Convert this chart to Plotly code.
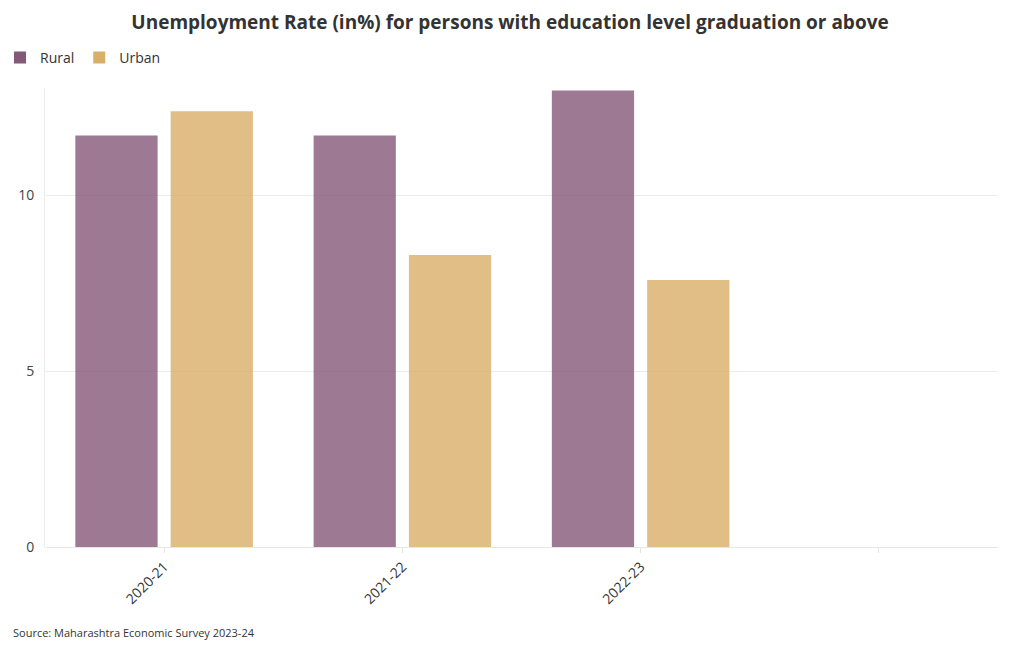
import plotly.graph_objects as go

categories = ["2020-21", "2021-22", "2022-23", " "]
rural = [11.7, 11.7, 12.98, None]
urban = [12.39, 8.3, 7.59, None]
tick_labels = ["2020-21", "2021-22", "2022-23", ""]

FONT = "Open Sans"

fig = go.Figure()
fig.add_trace(go.Bar(name="Rural", x=categories, y=rural,
                     marker=dict(color="#845878", opacity=0.8, line=dict(width=0))))
fig.add_trace(go.Bar(name="Urban", x=categories, y=urban,
                     marker=dict(color="#d8ae68", opacity=0.8, line=dict(width=0))))

fig.update_layout(
    width=1020, height=650,
    paper_bgcolor="white", plot_bgcolor="white",
    margin=dict(l=45, r=22, t=88, b=103),
    barmode="group", bargap=0.20, bargroupgap=0.137,
    font=dict(family=FONT, color="#333333", size=13),
    title=dict(text="<b>Unemployment Rate (in%) for persons with education level graduation or above</b>",
               x=0.5, xanchor="center", y=0.965, yanchor="middle",
               font=dict(size=19, family=FONT, color="#333333")),
    legend=dict(orientation="h", xref="container", yref="container",
                x=0.0, xanchor="left", y=0.911, yanchor="middle",
                font=dict(size=14, family=FONT, color="#333333"),
                itemwidth=30, traceorder="normal"),
    xaxis=dict(type="category", categoryorder="array", categoryarray=categories,
               tickvals=categories, ticktext=tick_labels, tickangle=-45,
               ticks="outside", ticklen=5, tickcolor="#e6e6e6", automargin=False,
               showline=False, showgrid=False, zeroline=False,
               tickfont=dict(size=14, color="#333333")),
    yaxis=dict(range=[0, 13.05], tickvals=[0, 5, 10], showgrid=True, gridcolor="#ececec",
               zeroline=True, zerolinecolor="#e6e6e6", zerolinewidth=1,
               showline=True, linecolor="#ececec", linewidth=1, automargin=False,
               ticks="", ticklabelstandoff=7, tickfont=dict(size=14, color="#444444")),
    annotations=[dict(text="Source: Maharashtra Economic Survey 2023-24", xref="paper", yref="paper",
                      x=-0.036, y=-0.186, xanchor="left", yanchor="middle", showarrow=False,
                      font=dict(size=11, family=FONT, color="#333333"))],
)

fig.write_html("out.html")
